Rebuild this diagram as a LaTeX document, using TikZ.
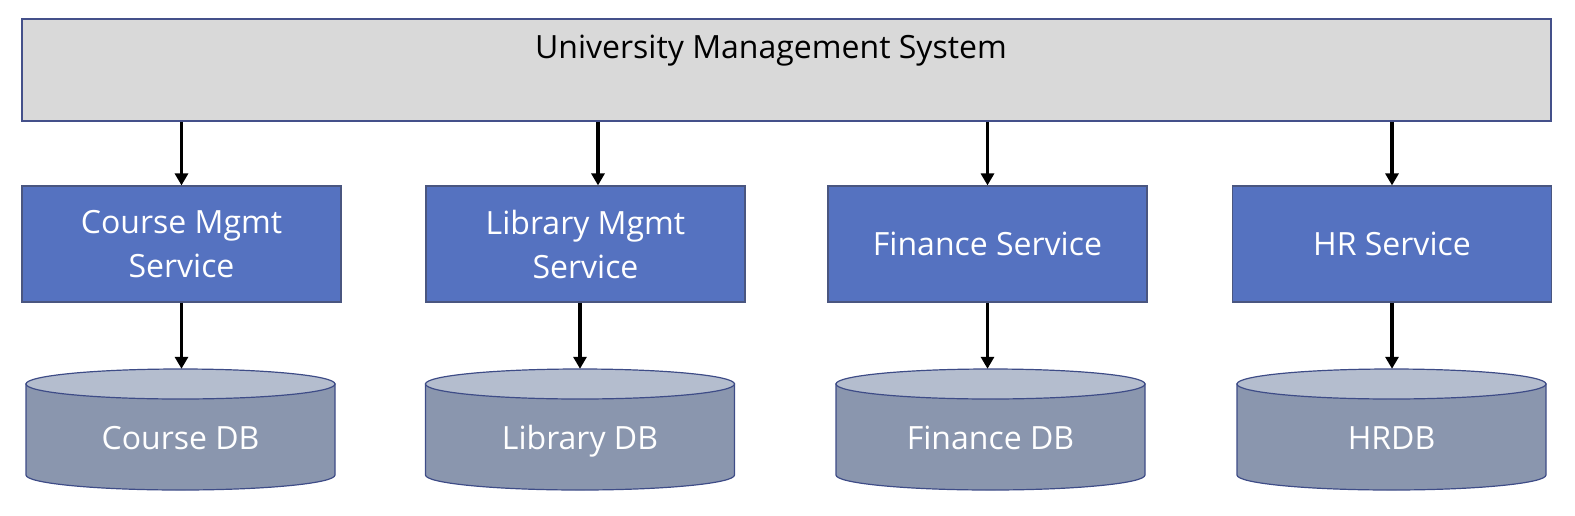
\documentclass[tikz,border=0pt]{standalone}
\usepackage{fontspec}
\setmainfont{Open Sans}
\usetikzlibrary{arrows.meta,backgrounds,calc}
\definecolor{topfill}{HTML}{D9D9D9}
\definecolor{topline}{HTML}{44508A}
\definecolor{svcfill}{HTML}{5572C0}
\definecolor{svcline}{HTML}{4A5680}
\definecolor{dbbody}{HTML}{8A96AE}
\definecolor{dbtop}{HTML}{B4BDCE}
\definecolor{dbline}{HTML}{3E4C87}
\tikzset{
  sysbox/.style={draw=topline, line width=1.6pt, fill=topfill, minimum width=1529pt, minimum height=102pt, inner sep=0pt},
  titletext/.style={font=\fontsize{32}{44}\selectfont, text=black, inner sep=0pt, text height=24pt, text depth=0pt},
  svcbox/.style={draw=svcline, line width=1.2pt, fill=svcfill, minimum width=319pt, minimum height=116pt, inner sep=0pt, text=white, align=center, font=\fontsize{32}{44}\selectfont},
  dbnode/.style={minimum width=309pt, minimum height=136pt, inner sep=0pt, text=white, font=\fontsize{32}{44}\selectfont, text height=24pt, text depth=0pt},
  dbsideline/.style={draw=dbline, line width=1.2pt, fill=dbbody},
  dbcap/.style={draw=dbline, line width=1.2pt, fill=dbtop},
  arr/.style={line width=3.8pt, -{Triangle[width=13pt,length=12pt]}}
}
\begin{document}
\begin{tikzpicture}[x=1pt,y=-1pt]
\useasboundingbox (0,0) rectangle (1575,515);
\node[sysbox] (sys) at (786.5,70) {};
\node[titletext] (title) at (771,46) {University Management System};
\node[svcbox] (cs) at (181.5,244) {Course Mgmt\\Service};
\node[svcbox] (ls) at (585.5,244) {Library Mgmt\\Service};
\node[svcbox] (fs) at (987.5,244) {Finance Service};
\node[svcbox] (hs) at (1392,244) {HR Service};
\node[dbnode] (cdb) at (180.5,437) {Course DB};
\node[dbnode] (ldb) at (580,437) {Library DB};
\node[dbnode] (fdb) at (990.5,437) {Finance DB};
\node[dbnode] (hdb) at (1391.5,437) {HRDB};
\begin{pgfonlayer}{background}
\foreach \n in {cdb,ldb,fdb,hdb}{
  \filldraw[dbsideline] ([xshift=-154.5pt,yshift=53pt]\n.center) -- ([xshift=-154.5pt,yshift=-38pt]\n.center)
    arc[start angle=180,end angle=360,x radius=154.5pt,y radius=15pt]
    -- ([xshift=154.5pt,yshift=53pt]\n.center) -- cycle;
  \filldraw[dbcap] ([yshift=53pt]\n.center) ellipse[x radius=154.5pt,y radius=15pt];
}
\end{pgfonlayer}
\draw[arr] (cs.north |- sys.south) -- (cs.north);
\draw[arr] ([xshift=12.5pt]ls.north |- sys.south) -- ([xshift=12.5pt]ls.north);
\draw[arr] (fs.north |- sys.south) -- (fs.north);
\draw[arr] (hs.north |- sys.south) -- (hs.north);
\draw[arr] (cs.south) -- (cs.south |- cdb.north);
\draw[arr] (ls.south -| ldb.north) -- (ldb.north);
\draw[arr] (fs.south) -- (fs.south |- fdb.north);
\draw[arr] (hs.south) -- (hs.south |- hdb.north);
\end{tikzpicture}
\end{document}
